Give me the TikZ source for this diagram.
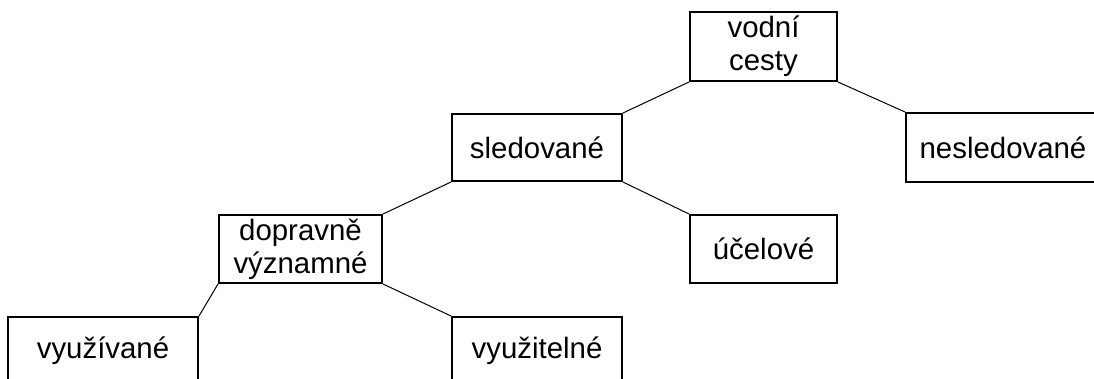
\documentclass[tikz,border=0pt]{standalone}
\usepackage{fontspec}
\setmainfont{Liberation Sans}
\begin{document}
\begin{tikzpicture}[x=1pt,y=-1pt,
  box/.style={draw=black, line width=2pt, fill=white, inner sep=0pt, align=center,
    font=\fontsize{29.4}{33}\selectfont},
  conn/.style={draw=black, line width=1pt}]
\useasboundingbox (0,0) rectangle (1094,378);
\clip (0,0) rectangle (1094,378);
\fill[white] (0,0) rectangle (1094,378);
\node[box, minimum width=147pt, minimum height=69pt] (vc) at (763.5,46.5) {vodní\\cesty};
\node[box, minimum width=170pt, minimum height=67pt] (sl) at (537,147.5) {sledované};
\node[box, minimum width=194pt, minimum height=69pt] (ns) at (1003,147.5) {nesledované};
\node[box, minimum width=163pt, minimum height=68pt] (dv) at (300.5,249) {dopravně\\významné};
\node[box, minimum width=147pt, minimum height=68pt] (uc) at (763.5,249) {účelové};
\node[box, minimum width=190pt, minimum height=68pt] (vy) at (103,351) {využívané};
\node[box, minimum width=170pt, minimum height=68pt] (vt) at (537,351) {využitelné};
\draw[conn] (vc.south west) -- (sl.north east);
\draw[conn] (vc.south east) -- (ns.north west);
\draw[conn] (sl.south west) -- (dv.north east);
\draw[conn] (sl.south east) -- (uc.north west);
\draw[conn] (dv.south west) -- (vy.north east);
\draw[conn] (dv.south east) -- (vt.north west);
\end{tikzpicture}
\end{document}
